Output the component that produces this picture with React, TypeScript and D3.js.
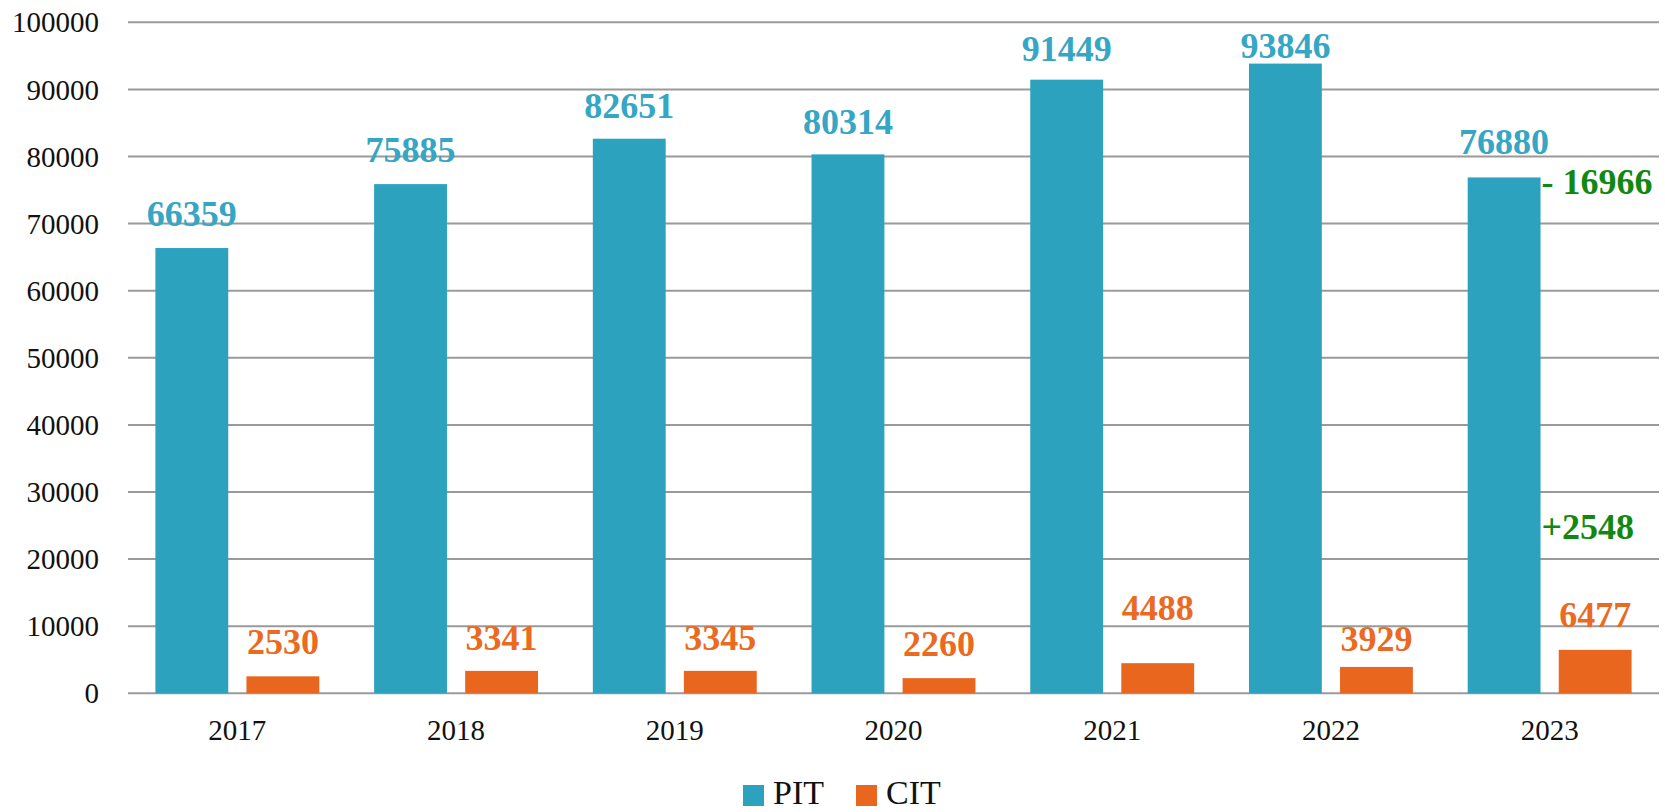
import React from "react";
import * as d3 from "d3";

const years = ["2017", "2018", "2019", "2020", "2021", "2022", "2023"];
const pitValues = [66359, 75885, 82651, 80314, 91449, 93846, 76880];
const citValues = [2530, 3341, 3345, 2260, 4488, 3929, 6477];
const seriesNames = ["PIT", "CIT"];
const yTicks = [0, 10000, 20000, 30000, 40000, 50000, 60000, 70000, 80000, 90000, 100000];
// label lift above bar top (px), as placed in the original
const pitLabelLift = [22, 22, 21, 20, 19, 6, 23];
const citLabelLift = [22, 21, 21, 22, 43, 16, 23];
const changeNotes = [
  { text: "- 16966", value: 76880, dy: 17 },
  { text: "+2548", value: 23000, dy: 0 },
];

const W = 1665;
const H = 812;
const colors: Record<string, string> = { PIT: "#2CA2BF", CIT: "#E9661F" };
const labelColors: Record<string, string> = { PIT: "#35A6C3", CIT: "#EA6A22" };
const green = "#118811";
const font = "'Liberation Serif', 'Times New Roman', serif";

export default function App() {
  const x = d3.scaleBand().domain(years).range([128, 1659]);
  const inner = d3
    .scaleBand()
    .domain(seriesNames)
    .range([27.4, x.bandwidth() - 27.4])
    .paddingInner(0.2);
  const y = d3.scaleLinear().domain([0, 100000]).range([693.3, 22.3]);

  const rows = years.map((yr, i) => ({
    year: yr,
    PIT: pitValues[i],
    CIT: citValues[i],
    lift: { PIT: pitLabelLift[i], CIT: citLabelLift[i] } as Record<string, number>,
  }));

  const last = years[years.length - 1];
  const noteX = (x(last) ?? 0) + (inner("PIT") ?? 0) + inner.bandwidth() + 1;

  return (
    <svg
      width={W}
      height={H}
      style={{ position: "absolute", left: 0, top: 0, background: "#fff" }}
    >
      {/* grid */}
      <g>
        {yTicks.map((t) => (
          <g key={t}>
            <line
              x1={128}
              x2={1659}
              y1={y(t)}
              y2={y(t)}
              stroke="#9a9a9a"
              strokeWidth={2}
            />
            <text
              x={99}
              y={y(t)}
              dy="0.35em"
              textAnchor="end"
              fontFamily={font}
              fontSize={29}
              fill="#111"
            >
              {t}
            </text>
          </g>
        ))}
      </g>

      {/* bars */}
      {rows.map((r) => (
        <g key={r.year} transform={`translate(${x(r.year)},0)`}>
          {seriesNames.map((s) => {
            const v = (r as any)[s] as number;
            const bx = inner(s) ?? 0;
            return (
              <g key={s}>
                <rect
                  x={bx}
                  y={y(v)}
                  width={inner.bandwidth()}
                  height={y(0) - y(v)}
                  fill={colors[s]}
                />
                <text
                  x={bx + inner.bandwidth() / 2}
                  y={y(v) - r.lift[s]}
                  textAnchor="middle"
                  fontFamily={font}
                  fontWeight="bold"
                  fontSize={36}
                  fill={labelColors[s]}
                >
                  {v}
                </text>
              </g>
            );
          })}
          <text
            x={x.bandwidth() / 2}
            y={740}
            textAnchor="middle"
            fontFamily={font}
            fontSize={29}
            fill="#111"
          >
            {r.year}
          </text>
        </g>
      ))}

      {/* change notes */}
      {changeNotes.map((n) => (
        <text
          key={n.text}
          x={noteX}
          y={y(n.value) + n.dy}
          fontFamily={font}
          fontWeight="bold"
          fontSize={36}
          fill={green}
        >
          {n.text}
        </text>
      ))}

      {/* legend */}
      <g fontFamily={font} fontSize={34} fill="#111">
        <rect x={743} y={785} width={21} height={21} fill={colors.PIT} />
        <text x={773} y={804}>PIT</text>
        <rect x={856} y={785} width={21} height={21} fill={colors.CIT} />
        <text x={886} y={804}>CIT</text>
      </g>
    </svg>
  );
}
